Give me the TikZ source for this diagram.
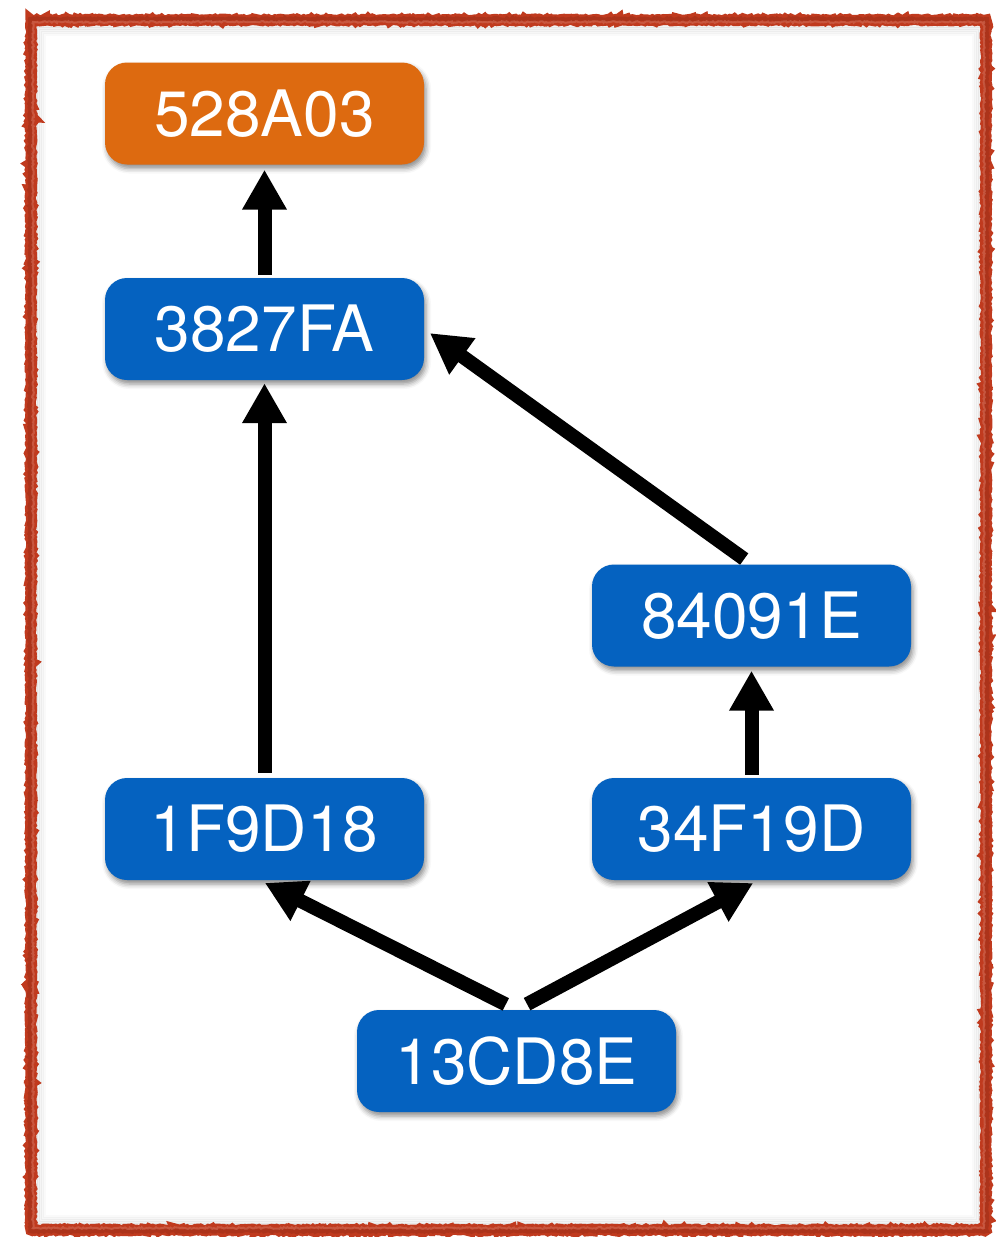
\documentclass[tikz,border=0pt]{standalone}
\usepackage{fontspec}
\setmainfont{TeX Gyre Heros}
\usetikzlibrary{arrows.meta,shadows.blur,decorations.pathmorphing}
\definecolor{commitblue}{RGB}{5,98,192}
\definecolor{headorange}{RGB}{221,106,16}
\definecolor{framered}{RGB}{192,58,30}
\begin{document}
\begin{tikzpicture}[x=1pt,y=-1pt,
  commit/.style={rounded corners=22pt, minimum width=319pt, minimum height=102pt,
    inner sep=0pt, fill=commitblue, text=white, font=\fontsize{64}{64}\selectfont,
    blur shadow={shadow xshift=2pt, shadow yshift=-4pt, shadow blur radius=5pt, shadow opacity=45}},
  head/.style={commit, fill=headorange},
  link/.style={line width=14pt, -{Triangle[length=40pt,width=42pt]}},
  rough/.style={decorate, decoration={random steps, segment length=1.6pt, amplitude=0.9pt}},
]
\useasboundingbox (0,0) rectangle (996,1237);
\pgfmathsetseed{11}

% soft inner shadow of the frame, fading inwards
\foreach \d/\o in {0/0.05, 2/0.05, 4/0.04, 6/0.03, 8/0.02}
  \draw[line width=3pt, black, opacity=\o] (36+\d,26+\d) rectangle (981-\d,1224-\d);
% hand-drawn frame
\draw[rough, line width=11pt, framered] (31,20) rectangle (986,1230);
\draw[rough, line width=4pt, framered!80!black, opacity=0.5] (30,19) rectangle (987,1231);
\draw[rough, line width=2pt, framered!70!white, opacity=0.5] (33,22) rectangle (984,1228);

% commits
\node[head]   (A) at (264.5,113.5) {528A03};
\node[commit] (B) at (264.5,329)   {3827FA};
\node[commit] (C) at (751.5,615.5) {84091E};
\node[commit] (D) at (264.5,829)   {1F9D18};
\node[commit] (E) at (751.5,829)   {34F19D};
\node[commit] (F) at (516.5,1061)  {13CD8E};

% parent links
\draw[link, shorten <=3pt, shorten >=5pt] (B.north) -- (A.south);
\draw[link, shorten <=5pt, shorten >=3pt] (D.north) -- (B.south);
\draw[link, shorten <=3pt, shorten >=4pt] (E.north) -- (C.south);
\draw[link, shorten <=9pt, shorten >=7pt] (C.north) -- (B.east);
\draw[link, shorten <=12pt, shorten >=6pt] (F.north) -- ([xshift=-5pt]D.south);
\draw[link, shorten <=12pt, shorten >=6pt] (F.north) -- ([xshift=7pt]E.south);
\end{tikzpicture}
\end{document}
